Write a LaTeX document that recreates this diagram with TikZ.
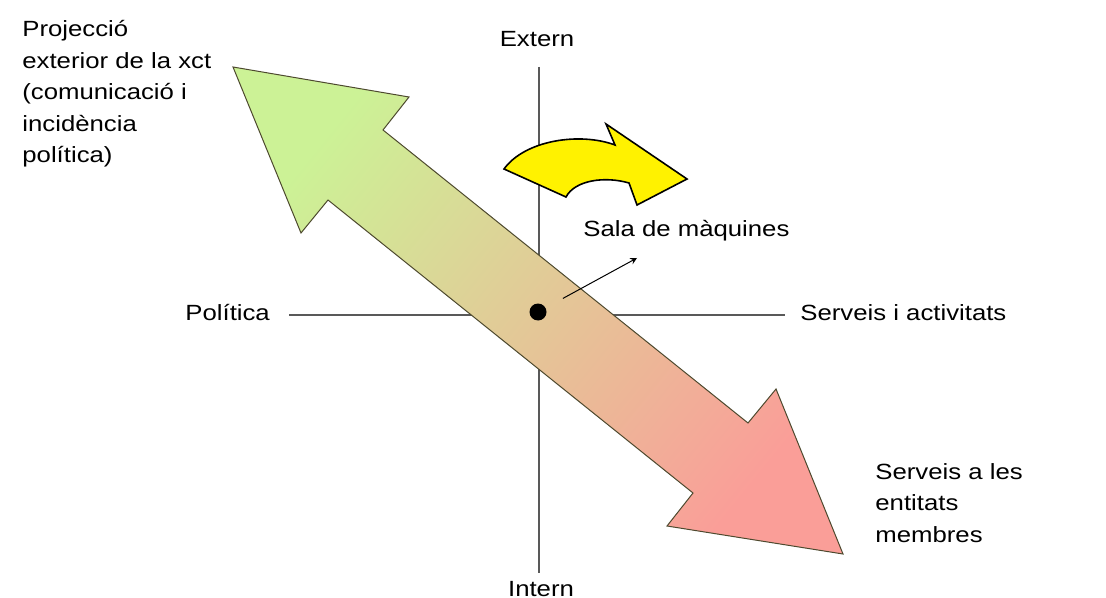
\documentclass[tikz,border=0pt]{standalone}
\usepackage{fontspec}
\setmainfont[FakeStretch=1.17]{Liberation Sans}
\usepackage{tikz}
\usetikzlibrary{calc}

\definecolor{headgreen}{RGB}{204,242,150}
\definecolor{headpink}{RGB}{250,158,152}
\tikzset{
  lbl/.style={font=\fontsize{11}{15.75}\selectfont, inner sep=0pt, align=left},
  axisline/.style={draw=black!65, line width=0.6pt},
}

\begin{document}
\begin{tikzpicture}[x=0.5pt,y=-0.5pt]
  \useasboundingbox (0,0) rectangle (1106,598);
  \coordinate (ax-top) at (539,67);
  \coordinate (ax-bot) at (539,573);
  \coordinate (ax-left) at (289,315);
  \coordinate (ax-right) at (785,315);
  \draw[axisline] (ax-top) -- (ax-bot);
  \draw[axisline] (ax-left) -- (ax-right);
  % double arrow, green to pink
  \shade[draw=black!60!olive, line width=0.5pt, top color=headgreen,
    bottom color=headpink, shading angle=51]
    (233,67) -- (409,97) -- (383,130) -- (748,423) -- (776,389) -- (843,554)
    -- (667,526) -- (693,493) -- (328,200) -- (301,233) -- cycle;
  \draw[fill=yellow, line width=0.8pt] (504,169) .. controls (525,140) and (580,132) .. (615,145)
    -- (606,124) -- (687,179) -- (637,205) -- (629,183)
    .. controls (605,176) and (575,180) .. (566,197) -- cycle;
  \node[circle, fill=black, minimum size=8.5pt, inner sep=0pt] (hub) at (538,312) {};
  \coordinate (sala-tip) at (637,258);
  \draw[-stealth, line width=0.5pt, shorten <=9.75pt] (hub) -- (sala-tip);
  \node[lbl, anchor=base west] (proj) at (22,163)
    {Projecció\\exterior de la xct\\(comunicació i\\incidència\\política)};
  \node[lbl, anchor=base] (extern) at (537,47) {Extern};
  \node[lbl, anchor=base] (intern) at (541,596) {Intern};
  \node[lbl, anchor=base west] (politica) at (185,321) {Política};
  \node[lbl, anchor=base west] (serveis) at (800,321) {Serveis i activitats};
  \node[lbl, anchor=base west] (sala) at (583,237) {Sala de màquines};
  \node[lbl, anchor=base west] (membres) at (875,542) {Serveis a les\\entitats\\membres};
\end{tikzpicture}
\end{document}
